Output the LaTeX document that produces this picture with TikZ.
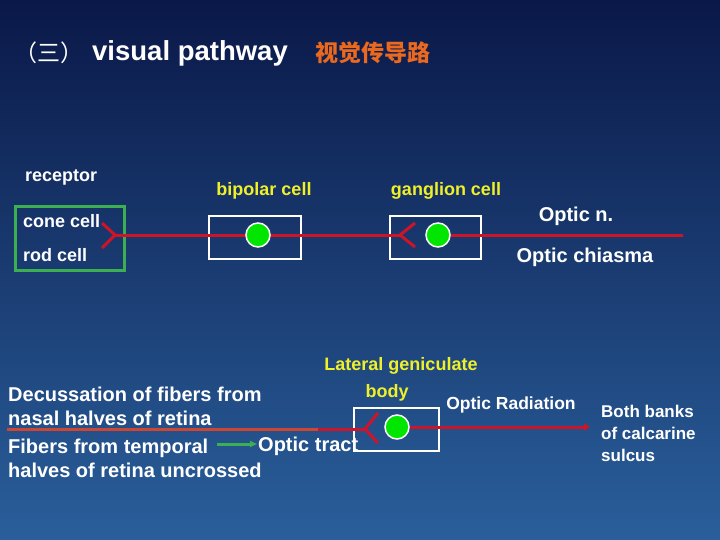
\documentclass[tikz,border=0pt]{standalone}
\usepackage{fontspec}
\setmainfont{Liberation Sans}
\newfontfamily\cjk{Noto Sans CJK SC}
\usepackage{xcolor}
\usepackage{tikz}
\usetikzlibrary{arrows.meta, positioning}

\definecolor{bgtop}{RGB}{10,24,72}
\definecolor{bgbot}{RGB}{42,95,155}
\definecolor{nerve}{RGB}{205,20,40}
\definecolor{nervelight}{RGB}{205,70,50}
\definecolor{cellgreen}{RGB}{0,230,0}
\definecolor{boxgreen}{RGB}{60,175,80}
\definecolor{labelyellow}{RGB}{240,240,40}
\definecolor{titleorange}{RGB}{235,105,30}

\begin{document}
\begin{tikzpicture}[
    x=1pt, y=-1pt,
    lbl/.style={font=\bfseries\fontsize{18}{22}\selectfont, text=white, inner sep=0pt},
    big/.style={lbl, font=\bfseries\fontsize{20}{24}\selectfont},
    cellname/.style={lbl, text=labelyellow},
    cellbox/.style={draw=white, line width=2.5pt, inner sep=0pt},
    soma/.style={circle, fill=cellgreen, draw=white, line width=1.5pt, minimum size=24pt, inner sep=0pt},
    nerveline/.style={draw=nerve, line width=3pt},
    tip/.style={-{Triangle[length=6pt, width=7pt]}}
]
% Background
\shade[top color=bgtop, bottom color=bgbot] (0,0) rectangle (720,540);
\useasboundingbox (0,0) rectangle (720,540);

% Title
\node[inner sep=0pt, anchor=west, text=white] (num) at (14,53) {\cjk\fontsize{23}{26}\selectfont （三）};
\node[lbl, anchor=west, font=\bfseries\fontsize{27.5}{30}\selectfont] (title) at (92,53) {visual pathway};
\node[inner sep=0pt, anchor=west, text=titleorange] (titlecn) at (315,53) {\cjk\bfseries\fontsize{23}{26}\selectfont 视觉传导路};

% Receptor
\node[lbl, anchor=west] (receptor) at (25,177) {receptor};
\node[draw=boxgreen, line width=3pt, minimum width=109pt, minimum height=63pt, inner sep=0pt] (recbox) at (69.5,238.5) {};
\node[lbl, anchor=west] (cone) at (23,221) {cone cell};
\node[lbl, anchor=west] (rod) at (23,255) {rod cell};
\coordinate (recv) at (115,235);
\draw[nerveline] (102,223) -- (recv) -- (102,248);

% Bipolar cell
\node[cellbox, minimum width=92pt, minimum height=43pt] (bipolar) at (255,237.5) {};
\node[cellname] (bipolarlbl) at (264,191) {bipolar cell};

% Ganglion cell
\node[cellbox, minimum width=91pt, minimum height=43pt] (ganglion) at (435.5,237.5) {};
\node[cellname] (ganglionlbl) at (446,191) {ganglion cell};
\coordinate (gangv) at (400,235);
\draw[nerveline] (415,223) -- (gangv) -- (415,247);

% Optic nerve
\coordinate (nerveend) at (683,235);
\draw[nerveline] (recv) -- (gangv);
\node[soma] (bipsoma) at (258,235) {};
\node[soma] (gangsoma) at (438,235) {};
\draw[nerveline] (gangsoma) -- (nerveend);
\node[big] (opticn) at (576,216) {Optic n.};
\node[big] (chiasma) at (585,257) {Optic chiasma};

% Lateral geniculate body
\node[cellbox, minimum width=85pt, minimum height=43pt] (lgb) at (396.5,429.5) {};
\node[cellname] (lgblbl) at (401,366) {Lateral geniculate};
\node[cellname] (bodylbl) at (387,393) {body};
\coordinate (lgbv) at (365,429);
\draw[nerveline] (378,413) -- (lgbv) -- (378,443);
\node[soma] (lgbsoma) at (397,427) {};

% Optic tract
\coordinate (tractstart) at (7,429);
\coordinate (tractmid) at (318,429);
\draw[nerveline, draw=nervelight] (tractstart) -- (tractmid);
\draw[nerveline] (tractmid) -- (lgbv);
\node[big, anchor=west, align=left, font=\bfseries\fontsize{20}{24}\selectfont] (decuss) at (8,406) {Decussation of fibers from\\nasal halves of retina};
\node[big, anchor=west, align=left, font=\bfseries\fontsize{20}{24}\selectfont] (temporal) at (8,458) {Fibers from temporal\\halves of retina uncrossed};
\node[big, anchor=west] (tract) at (258,446) {Optic tract};
\coordinate (greenstart) at (217,444);
\coordinate (greenend) at (257,444);
\draw[-{Triangle[length=7pt, width=6pt]}, draw=boxgreen, fill=boxgreen, line width=3pt] (greenstart) -- (greenend);

% Optic radiation
\coordinate (radend) at (590,427);
\draw[nerveline, tip, fill=nerve] (lgbsoma) -- (radend);
\node[lbl, font=\bfseries\fontsize{17.5}{21}\selectfont] (radiation) at (511,405) {Optic Radiation};
\node[lbl, anchor=west, align=left, font=\bfseries\fontsize{17}{22}\selectfont] (calcarine) at (601,433) {Both banks\\of calcarine\\sulcus};

\end{tikzpicture}
\end{document}
